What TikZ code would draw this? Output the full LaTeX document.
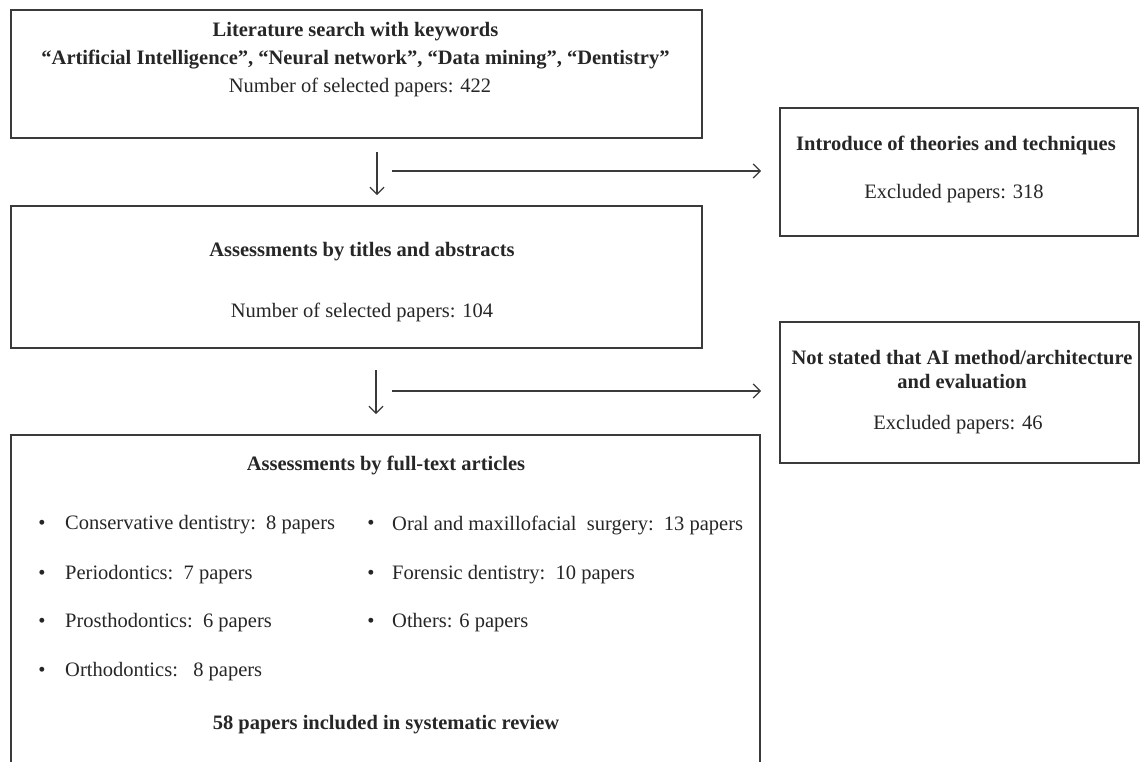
\documentclass[tikz,border=0pt]{standalone}
\usepackage{fontspec}
\setmainfont{Liberation Serif}
\usetikzlibrary{arrows.meta}
\definecolor{framegray}{HTML}{3A3A3A}
\definecolor{textgray}{HTML}{262626}
\begin{document}
\begin{tikzpicture}[x=1pt,y=-1pt,
  boxframe/.style={draw=framegray, line width=1.6pt, inner sep=0pt, anchor=north west},
  txt/.style={text=textgray, font=\fontsize{20.5}{24}\selectfont, inner sep=0pt, anchor=center},
  btxt/.style={text=textgray, font=\fontsize{20.5}{24}\selectfont\bfseries, inner sep=0pt, anchor=center, align=center},
  ltxt/.style={txt, anchor=west},
  bul/.style={txt},
  arr/.style={draw=framegray, line width=1.2pt, -{Straight Barb[length=7pt,width=14pt,line width=1.2pt]}}
]
\useasboundingbox (0,0) rectangle (1141,761);

% boxes
\node[boxframe, minimum width=691pt, minimum height=128pt] (b1) at (10,9) {};
\node[boxframe, minimum width=691pt, minimum height=142pt] (b2) at (10,205) {};
\node[boxframe, minimum width=749pt, minimum height=360pt] (b3) at (10,434) {};
\node[boxframe, minimum width=358pt, minimum height=128pt] (r1) at (779,107) {};
\node[boxframe, minimum width=359pt, minimum height=141pt] (r2) at (779,321) {};

% top box text
\node[btxt] (t1a) at (355.5,32) {Literature search with keywords};
\node[btxt] (t1b) at (355.5,60) {“Artificial Intelligence”, “Neural network”, “Data mining”, “Dentistry”};
\node[txt] (t1c) at (360,87) {Number of selected papers: 422};

% second box text
\node[btxt] (t2a) at (362,252) {Assessments by titles and abstracts};
\node[txt] (t2b) at (362,312) {Number of selected papers: 104};

% right box 1
\node[btxt] (r1a) at (956,145) {Introduce of theories and techniques};
\node[txt] (r1b) at (954,194) {Excluded papers: 318};

% right box 2
\node[btxt] (r2a) at (962,370) {Not stated that AI method/architecture\\and evaluation};
\node[txt] (r2b) at (958,425) {Excluded papers: 46};

% third box
\node[btxt] (t3a) at (386,465) {Assessments by full-text articles};
\node[bul] (p1) at (42,525) {•};
\node[ltxt] (l1) at (65,525) {Conservative dentistry:\ \ 8 papers};
\node[bul] (p2) at (42,575) {•};
\node[ltxt] (l2) at (65,575) {Periodontics:\ \ 7 papers};
\node[bul] (p3) at (42,623) {•};
\node[ltxt] (l3) at (65,623) {Prosthodontics:\ \ 6 papers};
\node[bul] (p4) at (42,672) {•};
\node[ltxt] (l4) at (65,672) {Orthodontics:\ \ \ 8 papers};
\node[bul] (q1) at (371,525) {•};
\node[ltxt] (m1) at (392,525) {Oral and maxillofacial\ \ surgery:\ \ 13 papers};
\node[bul] (q2) at (371,575) {•};
\node[ltxt] (m2) at (392,575) {Forensic dentistry:\ \ 10 papers};
\node[bul] (q3) at (371,623) {•};
\node[ltxt] (m3) at (392,623) {Others: 6 papers};
\node[btxt] (t3b) at (386,725) {58 papers included in systematic review};

% arrows
\coordinate (d1s) at (377,152);
\coordinate (d1e) at (377,195);
\coordinate (h1s) at (392,171);
\coordinate (h1e) at (761,171);
\coordinate (d2s) at (376,370);
\coordinate (d2e) at (376,414);
\coordinate (h2s) at (392,391);
\coordinate (h2e) at (761,391);
\draw[arr] (d1s) -- (d1e);
\draw[arr] (h1s) -- (h1e);
\draw[arr] (d2s) -- (d2e);
\draw[arr] (h2s) -- (h2e);
\end{tikzpicture}
\end{document}
